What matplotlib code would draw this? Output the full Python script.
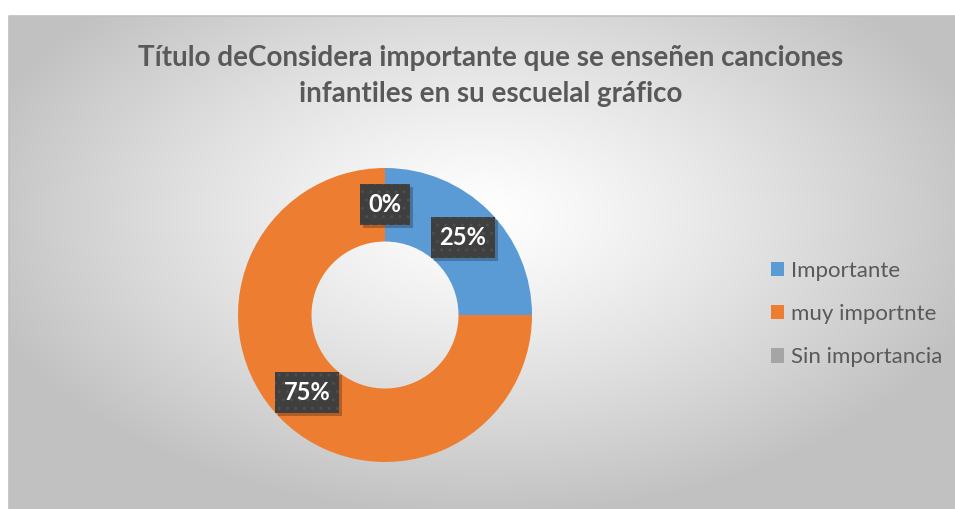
import numpy as np
import matplotlib
matplotlib.use("Agg")
import matplotlib.pyplot as plt
from matplotlib.patches import Rectangle
from matplotlib.transforms import IdentityTransform

categories = ["Importante", "muy importnte", "Sin importancia"]
values = [25, 75, 0]
colors = ["#5B9BD5", "#ED7D31", "#A5A5A5"]
title = "Título deConsidera importante que se enseñen canciones\ninfantiles en su escuelal gráfico"

W, H = 955, 509
fig = plt.figure(figsize=(W / 100, H / 100), dpi=100)
fig.patch.set_facecolor("white")

# chart area background (radial gradient)
x0, y0 = 9, 16
bg = fig.add_axes([x0 / W, 0, 1 - x0 / W, 1 - y0 / H])
bg.set_axis_off()
xs = np.linspace(x0, W, 400)
ys = np.linspace(y0, H, 220)
X, Y = np.meshgrid(xs, ys)
cx, cy = 480, 215
d = np.sqrt(((X - cx) / 520) ** 2 + ((Y - cy) / 300) ** 2)
d = np.clip(d, 0, 1)
g = 1.0 - 0.24 * d ** 1.2
img = np.dstack([g, g, g])
bg.imshow(img, extent=[0, 1, 0, 1], aspect="auto", origin="upper")
bg.set_xlim(0, 1)
bg.set_ylim(0, 1)
bg.plot([0, 0, 1], [0, 1, 1], color="#BFBFBF", lw=1.2, transform=bg.transAxes, clip_on=False)

# donut
R = 147
pcx, pcy = 385, 315
ax = fig.add_axes([(pcx - R) / W, (H - pcy - R) / H, 2 * R / W, 2 * R / H])
wedges, texts, autotexts = ax.pie(
    values, colors=colors, startangle=90, counterclock=False,
    wedgeprops=dict(width=0.5, edgecolor="none"),
    autopct="%1.0f%%", pctdistance=0.75,
    textprops=dict(color="white", fontsize=17, fontweight="bold", family="Lato"),
)
ax.set_aspect("equal")
ax.set_xlim(-1, 1)
ax.set_ylim(-1, 1)
for t in autotexts:
    t.set_bbox(dict(boxstyle="square,pad=0.38", facecolor="#3F3F3F", edgecolor="#4E4E4E",
                    hatch="..", linewidth=0))
    t.set_zorder(5)

# legend
fig.legend(wedges, categories, loc="center left",
           bbox_to_anchor=(771 / W, 1 - 314 / H), frameon=False,
           prop=dict(family="Lato", size=16), labelcolor="#595959",
           handlelength=0.6, handleheight=0.6, handletextpad=0.3,
           labelspacing=1.05, borderpad=0, borderaxespad=0)

fig.text(491 / W, 1 - 76 / H, title, ha="center", va="center",
         fontsize=20, fontweight="bold", color="#595959", family="Lato",
         linespacing=1.5)

# shadows under label boxes
fig.canvas.draw()
renderer = fig.canvas.get_renderer()
for t in autotexts:
    ext = t.get_bbox_patch().get_window_extent(renderer)
    sh = Rectangle((ext.x0 + 3, ext.y0 - 3), ext.width, ext.height,
                   facecolor="black", alpha=0.25, edgecolor="none", zorder=4,
                   clip_on=False)
    sh.set_transform(IdentityTransform())
    ax.add_artist(sh)

fig.savefig("out.png", dpi=100)
